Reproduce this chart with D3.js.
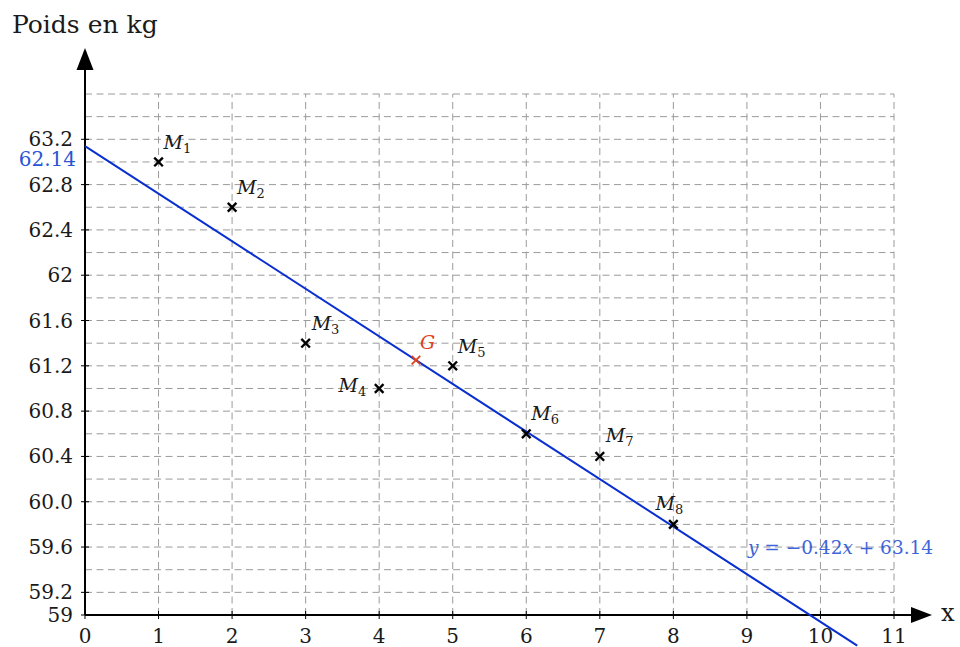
<!DOCTYPE html>
<html>
<head>
<meta charset="utf-8">
<script src="https://cdn.jsdelivr.net/npm/d3@7"></script>
<style>
  html, body { margin: 0; padding: 0; background: #fff; }
  svg { display: block; }
  svg text { font-family: "DejaVu Serif", serif; }
</style>
</head>
<body>
<svg id="chart" width="960" height="647"></svg>
<script>
// Mesures : rang de la mesure et poids (kg)
const rangs = [1, 2, 3, 4, 5, 6, 7, 8];
const poids = [63.0, 62.6, 61.4, 61.0, 61.2, 60.6, 60.4, 59.8];
const noms = ["M1", "M2", "M3", "M4", "M5", "M6", "M7", "M8"];

// Point moyen G
const pointG = [4.5, 61.25];

// Droite d'ajustement y = a x + b
const pente = -0.42;
const ordonnee = 63.14;
const xDroite = [0, 10.5];

// Graduations
const xTicks = [0, 1, 2, 3, 4, 5, 6, 7, 8, 9, 10, 11];
const yTicks = [59, 59.2, 59.6, 60.0, 60.4, 60.8, 61.2, 61.6, 62, 62.4, 62.8, 63.2];
const yTickLabels = ["59", "59.2", "59.6", "60.0", "60.4", "60.8", "61.2", "61.6", "62", "62.4", "62.8", "63.2"];
const yGrid = d3.range(59.2, 63.61, 0.2);
const xGrid = [1, 2, 3, 4, 5, 6, 7, 8, 9, 10, 11];
const interceptLabel = "62.14";

const svg = d3.select("#chart");
const x = d3.scaleLinear().domain([0, 11]).range([85, 894]);
const y = d3.scaleLinear().domain([59, 63.6]).range([615, 94]);

const gridColor = "#9a9a9a";
const lineBlue = "#0a2fd0";
const textBlue = "#2a55d6";
const redG = "#e0401a";
const ink = "#1a1a1a";
const serif = "'DejaVu Serif', serif";

// Quadrillage en pointillés
const grid = svg.append("g").attr("stroke", gridColor).attr("stroke-width", 1)
  .attr("stroke-dasharray", "7,4.5").attr("fill", "none");
grid.selectAll("line.h").data(yGrid).join("line").attr("class", "h")
  .attr("x1", x(0)).attr("x2", x(11))
  .attr("y1", d => y(d)).attr("y2", d => y(d));
grid.selectAll("line.v").data(xGrid).join("line").attr("class", "v")
  .attr("x1", d => x(d)).attr("x2", d => x(d))
  .attr("y1", y(59)).attr("y2", y(63.6));

// Axes avec flèches
const axes = svg.append("g");
axes.append("line").attr("x1", x(0)).attr("x2", 916).attr("y1", y(59)).attr("y2", y(59))
  .attr("stroke", "#000").attr("stroke-width", 2);
axes.append("line").attr("x1", x(0)).attr("x2", x(0)).attr("y1", y(59)).attr("y2", 66)
  .attr("stroke", "#000").attr("stroke-width", 2);
axes.append("path").attr("d", `M932,${y(59)} L911,${y(59) - 8} L911,${y(59) + 8} Z`).attr("fill", "#000");
axes.append("path").attr("d", `M${x(0)},48 L${x(0) - 8.5},70 L${x(0) + 8.5},70 Z`).attr("fill", "#000");

// Graduations de l'axe des abscisses
const xt = axes.append("g");
xt.selectAll("line").data(xTicks).join("line")
  .attr("x1", d => x(d)).attr("x2", d => x(d))
  .attr("y1", y(59) - 4).attr("y2", y(59) + 4)
  .attr("stroke", "#000").attr("stroke-width", 1);
xt.selectAll("text").data(xTicks).join("text")
  .attr("x", d => x(d)).attr("y", y(59) + 28)
  .attr("text-anchor", "middle").attr("font-size", 20).attr("font-family", serif).attr("fill", ink)
  .text(d => d);

// Graduations de l'axe des ordonnées
const yt = axes.append("g");
yt.selectAll("line").data(yTicks).join("line")
  .attr("x1", x(0) - 4).attr("x2", x(0) + 4)
  .attr("y1", d => y(d)).attr("y2", d => y(d))
  .attr("stroke", "#000").attr("stroke-width", 1);
yt.selectAll("text").data(yTicks).join("text")
  .attr("x", x(0) - 12).attr("y", d => y(d) + 7)
  .attr("text-anchor", "end").attr("font-size", 20).attr("font-family", serif).attr("fill", ink)
  .text((d, i) => yTickLabels[i]);

// Étiquette de l'ordonnée à l'origine
axes.append("text").attr("x", x(0) - 9).attr("y", y(ordonnee) + 20)
  .attr("text-anchor", "end").attr("font-size", 20).attr("font-family", serif).attr("fill", textBlue)
  .text(interceptLabel);

// Titres des axes
svg.append("text").attr("x", 12).attr("y", 33).attr("font-size", 25).attr("font-family", serif).attr("fill", ink)
  .text("Poids en kg");
svg.append("text").attr("x", 941).attr("y", 621).attr("font-size", 24).attr("font-family", serif).attr("fill", ink)
  .text("x");

// Droite d'ajustement
svg.append("line")
  .attr("x1", x(xDroite[0])).attr("y1", y(pente * xDroite[0] + ordonnee))
  .attr("x2", x(xDroite[1])).attr("y2", y(pente * xDroite[1] + ordonnee))
  .attr("stroke", lineBlue).attr("stroke-width", 2);

// Équation de la droite
const eq = svg.append("text").attr("x", 748).attr("y", y(59.6) + 7)
  .attr("font-size", 18.5).attr("font-family", serif).attr("fill", textBlue).attr("opacity", 0.9);
eq.append("tspan").attr("font-style", "italic").text("y");
eq.append("tspan").text(" = \u22120.42");
eq.append("tspan").attr("font-style", "italic").text("x");
eq.append("tspan").text(" + " + ordonnee.toFixed(2));

// Croix des mesures
function croix(g, cx, cy, r, color, w) {
  g.append("line").attr("x1", cx - r).attr("y1", cy - r).attr("x2", cx + r).attr("y2", cy + r)
    .attr("stroke", color).attr("stroke-width", w);
  g.append("line").attr("x1", cx - r).attr("y1", cy + r).attr("x2", cx + r).attr("y2", cy - r)
    .attr("stroke", color).attr("stroke-width", w);
}
const pts = svg.append("g");
rangs.forEach((r, i) => croix(pts, x(r), y(poids[i]), 4.3, "#000", 2.4));

// Étiquettes M_i
const labelPos = {
  M1: { dx: 5, dy: -13, anchor: "start" },
  M2: { dx: 5, dy: -13, anchor: "start" },
  M3: { dx: 6, dy: -13, anchor: "start" },
  M4: { dx: -13, dy: 4, anchor: "end" },
  M5: { dx: 5, dy: -13, anchor: "start" },
  M6: { dx: 5, dy: -14, anchor: "start" },
  M7: { dx: 6, dy: -14, anchor: "start" },
  M8: { dx: -4, dy: -14, anchor: "middle" }
};
rangs.forEach((r, i) => {
  const p = labelPos[noms[i]];
  const t = pts.append("text").attr("x", x(r) + p.dx).attr("y", y(poids[i]) + p.dy)
    .attr("text-anchor", p.anchor).attr("font-size", 19).attr("font-family", serif).attr("fill", ink);
  t.append("tspan").attr("font-style", "italic").text("M");
  t.append("tspan").attr("font-size", 13).attr("dy", 4).text(noms[i].slice(1));
});

// Point moyen G
croix(pts, x(pointG[0]), y(pointG[1]), 4.3, redG, 1.8);
pts.append("text").attr("x", x(pointG[0]) + 4).attr("y", y(pointG[1]) - 11)
  .attr("font-size", 19).attr("font-family", serif).attr("font-style", "italic").attr("fill", redG).text("G");
</script>
</body>
</html>
